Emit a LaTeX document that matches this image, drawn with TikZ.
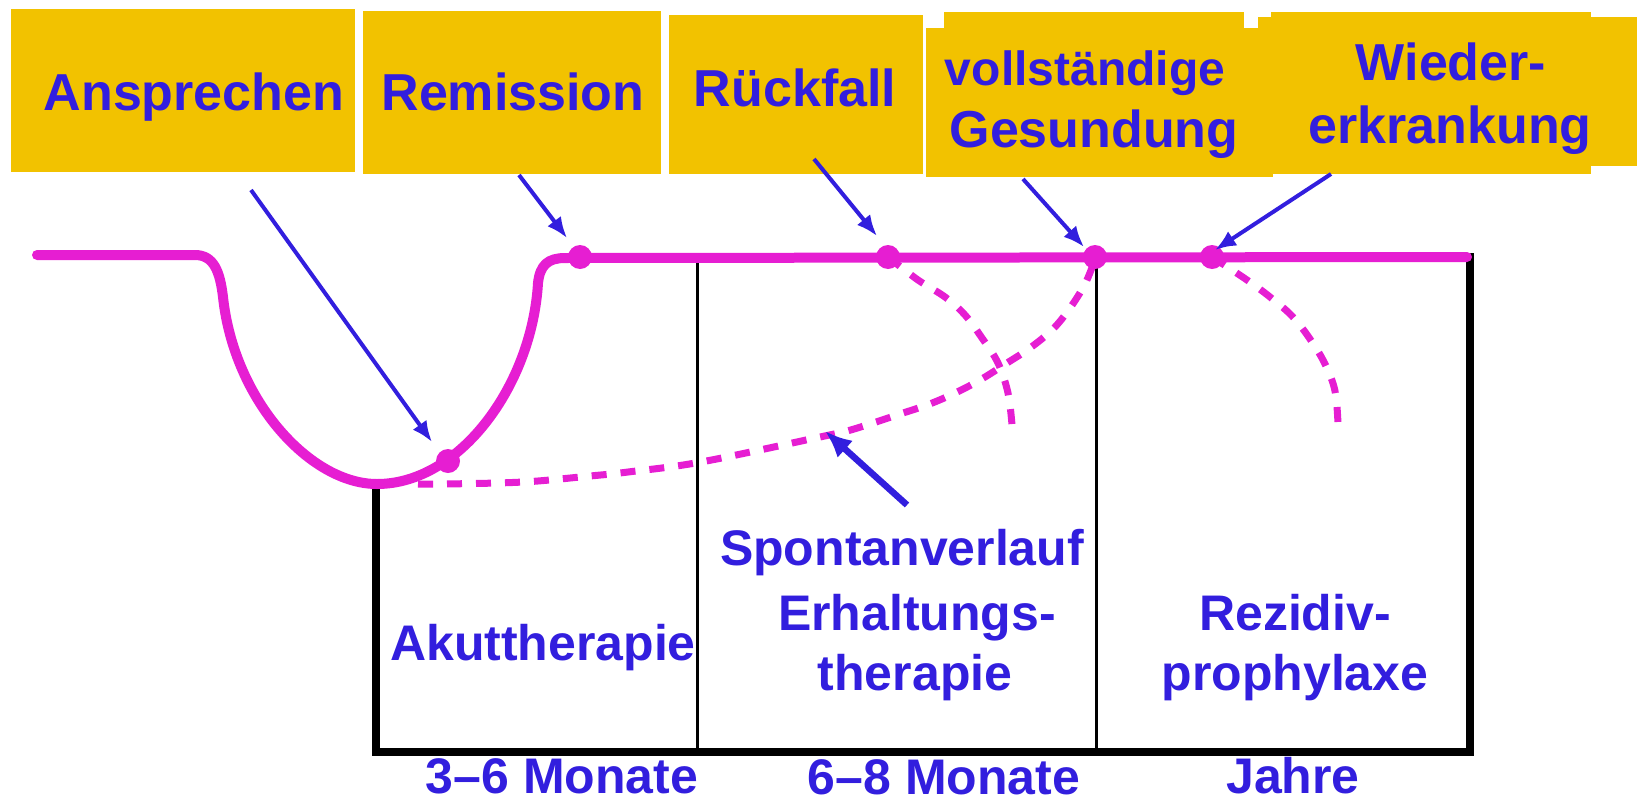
\documentclass[tikz,border=0pt]{standalone}
\usepackage{fontspec}
\setmainfont{Liberation Sans}
\usetikzlibrary{arrows.meta}
\definecolor{boxyellow}{RGB}{242,194,0}
\definecolor{txtblue}{RGB}{50,30,222}
\definecolor{curvemag}{RGB}{230,30,210}
\tikzset{
  lbl/.style={anchor=base,inner sep=0pt,text=txtblue,font=\bfseries\fontsize{52}{60}\selectfont},
  lblsmall/.style={lbl,font=\bfseries\fontsize{48}{56}\selectfont},
  lblbot/.style={lbl,font=\bfseries\fontsize{50}{58}\selectfont},
  ybox/.style={fill=boxyellow},
  maincurve/.style={draw=curvemag,line width=10pt,line cap=round,line join=round},
  dashcurve/.style={draw=curvemag,line width=7pt,dash pattern=on 15pt off 14pt},
  dot/.style={circle,fill=curvemag,inner sep=0pt,minimum width=24pt,minimum height=24pt},
  pointer/.style={draw=txtblue,line width=4pt,-{Latex[length=21pt,width=17pt]}},
  thickpointer/.style={draw=txtblue,line width=6.5pt,-{Latex[length=27pt,width=23pt]}},
  thickframe/.style={draw=black,line width=8pt},
  thinframe/.style={draw=black,line width=3pt},
}
\begin{document}
\begin{tikzpicture}[x=1pt,y=-1pt]
\useasboundingbox (0,0) rectangle (1637,803);
% yellow boxes
\fill[ybox] (11,9) rectangle (355,172);
\fill[ybox] (363,11) rectangle (661,174);
\fill[ybox] (669,15) rectangle (923,174);
\fill[ybox] (926,28) rectangle (1273,177);
\fill[ybox] (944,12) rectangle (1244,28);
\fill[ybox] (1258,17) rectangle (1273,28);
\fill[ybox] (1271,12) rectangle (1591,174);
\fill[ybox] (1591,17) rectangle (1637,166);
% box texts
\node[lbl] (tAns) at (194,110) {Ansprechen};
\node[lbl] (tRem) at (513,110) {Remission};
\node[lbl] (tRue) at (795,106) {Rückfall};
\node[lblsmall] (tVoll) at (1085,85) {vollständige};
\node[lbl] (tGes) at (1094,147) {Gesundung};
\node[lbl] (tWie) at (1451,80) {Wieder-};
\node[lbl] (tErk) at (1450,143) {erkrankung};
% frame
\draw[thinframe] (697,258) -- (697,752);
\draw[thinframe] (1096,258) -- (1096,752);
\draw[thickframe] (376,484) -- (376,752) -- (1470,752) -- (1470,253);
% dashed courses
\draw[dashcurve] plot[smooth,tension=0.6] coordinates {(418,484) (445,484) (523,482) (590,476) (628,472) (701,462) (820,437) (847,431) (873,423) (900,414) (927,405) (953,394) (980,380) (1007,363) (1030,348) (1053,329) (1070,308) (1085,284) (1094,262)};
\draw[dashcurve] plot[smooth,tension=0.6] coordinates {(888,257) (918,280) (945,297) (965,315) (982,338) (998,363) (1008,393) (1012,425)};
\draw[dashcurve] plot[smooth,tension=0.6] coordinates {(1212,257) (1247,280) (1270,297) (1292,316) (1310,339) (1325,364) (1335,391) (1338,424)};
% main course
\draw[maincurve] (37,255) -- (195,255)
  .. controls (214,255) and (220,272) .. (223,297)
  .. controls (234,400) and (310,484) .. (377,484)
  .. controls (460,484) and (532,385) .. (538,283)
  .. controls (540,265) and (548,258) .. (565,258)
  -- (1467,257);
% dots
\node[dot] (dAns) at (448,461) {};
\node[dot] (dRem) at (580,257) {};
\node[dot] (dRue) at (888,257) {};
\node[dot] (dGes) at (1095,257) {};
\node[dot] (dWie) at (1212,257) {};
% arrow start coordinates
\coordinate (sAns) at (251,190);
\coordinate (sRem) at (519,175);
\coordinate (sRue) at (814,159);
\coordinate (sGes) at (1023,179);
\coordinate (sWie) at (1331,174);
\coordinate (sSpo) at (907,505);
\coordinate (eSpo) at (825,431);
\coordinate (eAns) at (432,442);
\coordinate (eRem) at (567,238);
\coordinate (eRue) at (877,236);
\coordinate (eGes) at (1084,247);
\coordinate (eWie) at (1215,250);
\draw[pointer] (sAns) -- (eAns);
\draw[pointer] (sRem) -- (eRem);
\draw[pointer] (sRue) -- (eRue);
\draw[pointer] (sGes) -- (eGes);
\draw[pointer] (sWie) -- (eWie);
\draw[thickpointer] (sSpo) -- (eSpo);
% lower texts
\node[lblbot] (tSpo) at (902,565) {Spontanverlauf};
\node[lblbot] (tErh) at (917,630) {Erhaltungs-};
\node[lblbot] (tThe) at (915,690) {therapie};
\node[lblbot] (tAku) at (543,660) {Akuttherapie};
\node[lblbot] (tRez) at (1295,630) {Rezidiv-};
\node[lblbot] (tPro) at (1295,690) {prophylaxe};
\node[lblbot] (tM1) at (562,793) {3–6 Monate};
\node[lblbot] (tM2) at (944,794) {6–8 Monate};
\node[lblbot] (tJah) at (1293,793) {Jahre};
\end{tikzpicture}
\end{document}
